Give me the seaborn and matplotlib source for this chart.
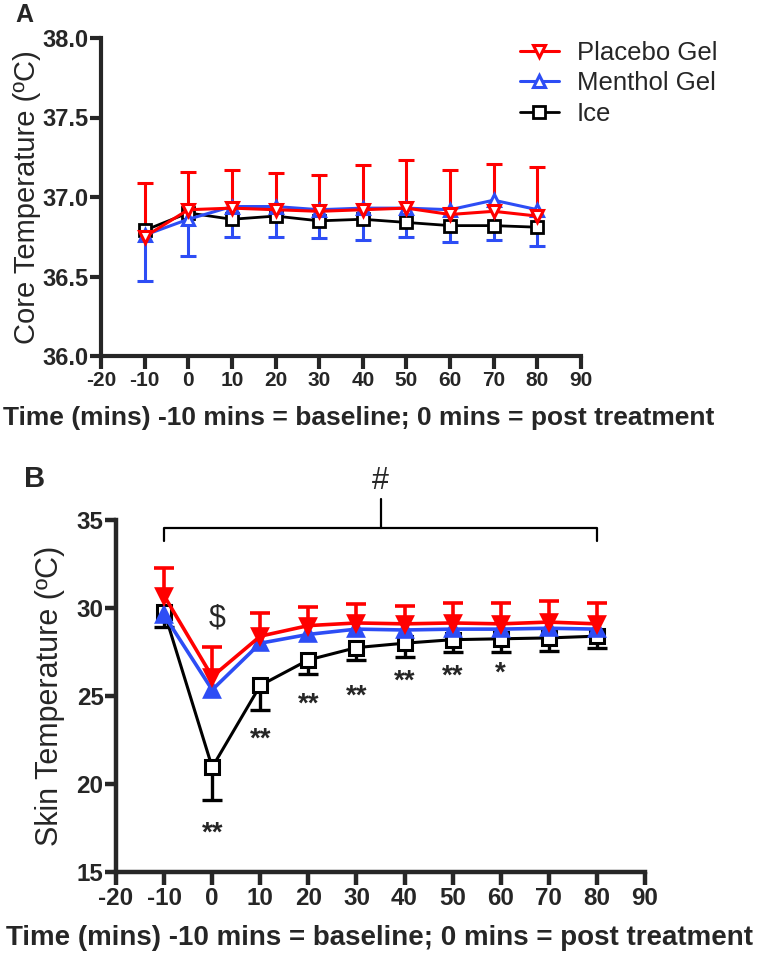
import numpy as np
import pandas as pd
import matplotlib
matplotlib.use("Agg")
import matplotlib.pyplot as plt
import seaborn as sns

# time points (mins)
times = [-10, 0, 10, 20, 30, 40, 50, 60, 70, 80]

# Panel A - core temperature
core_placebo = [36.75, 36.92, 36.93, 36.92, 36.91, 36.92, 36.93, 36.89, 36.91, 36.88]
core_placebo_sd = [0.34, 0.24, 0.24, 0.23, 0.23, 0.28, 0.30, 0.28, 0.30, 0.31]
core_menthol = [36.76, 36.86, 36.94, 36.94, 36.92, 36.93, 36.93, 36.92, 36.98, 36.92]
core_menthol_sd = [0.29, 0.23, 0.19, 0.19, 0.18, 0.20, 0.18, 0.20, 0.25, 0.23]
core_ice = [36.79, 36.90, 36.86, 36.88, 36.85, 36.86, 36.84, 36.82, 36.82, 36.81]

# Panel B - skin temperature
skin_placebo = [30.7, 26.1, 28.4, 29.0, 29.15, 29.1, 29.15, 29.1, 29.2, 29.1]
skin_placebo_sd = [1.6, 1.7, 1.3, 1.05, 1.05, 1.0, 1.15, 1.2, 1.2, 1.2]
skin_menthol = [29.6, 25.35, 28.0, 28.5, 28.8, 28.75, 28.8, 28.8, 28.85, 28.8]
skin_ice = [29.8, 20.95, 25.6, 27.05, 27.75, 28.0, 28.2, 28.25, 28.3, 28.4]
skin_ice_sd = [0.9, 1.85, 1.4, 0.8, 0.7, 0.8, 0.7, 0.75, 0.75, 0.7]

# significance marks under ice series
star_times = [0, 10, 20, 30, 40, 50, 60]
star_text = ['**', '**', '**', '**', '**', '**', '*']
star_y = [17.2, 22.5, 24.5, 24.95, 25.8, 26.1, 26.25]

RED = '#FF0000'
BLUE = '#2D4DF5'
BLACK = '#000000'
XLABEL = 'Time (mins) -10 mins = baseline; 0 mins = post treatment'

sns.set_style('ticks')
plt.rcParams['font.family'] = ['Liberation Sans', 'DejaVu Sans']
plt.rcParams['axes.unicode_minus'] = False


def style_axes(ax, yticks, ylim, fmt, xsize, ysize, lw):
    ax.set_xlim(-20, 90)
    ax.set_ylim(*ylim)
    ax.set_xticks(range(-20, 100, 10))
    ax.set_yticks(yticks)
    ax.set_yticklabels([fmt.format(v) for v in yticks])
    sns.despine(ax=ax)
    for s in ['left', 'bottom']:
        ax.spines[s].set_linewidth(lw)
    ax.tick_params(direction='out', length=9, width=lw, pad=2)
    ax.tick_params(axis='x', labelsize=xsize)
    ax.tick_params(axis='y', labelsize=ysize, length=8, pad=1)
    for lab in ax.get_xticklabels() + ax.get_yticklabels():
        lab.set_fontweight('bold')


def series(ax, y, color, marker, ms, mfc, lw, label=None, z=2):
    sns.lineplot(x=times, y=y, color=color, marker=marker, ms=ms, mfc=mfc,
                 mec=color, mew=lw, lw=lw, ax=ax, label=label, zorder=z)


def one_sided_err(ax, y, sd, sign, color, lw, cap):
    # error bar drawn only on one side of the mean, cap at the far end
    y = np.asarray(y)
    end = y + sign * np.asarray(sd)
    ax.vlines(times, y, end, color=color, lw=lw, zorder=1)
    ax.plot(times, end, ls='none', marker='_', ms=cap, mew=lw, color=color,
            zorder=1)


fig = plt.figure(figsize=(7.6, 9.56), dpi=100)

# ---- Panel A ----
axA = fig.add_axes([101 / 760, 1 - 356 / 956, 480 / 760, 318 / 956])
one_sided_err(axA, core_menthol, core_menthol_sd, -1, BLUE, 2.2, 11)
one_sided_err(axA, core_placebo, core_placebo_sd, 1, RED, 2.2, 11)
series(axA, core_ice, BLACK, 's', 8, 'white', 2.0, 'Ice', 2)
series(axA, core_menthol, BLUE, '^', 8.5, 'white', 2.2, 'Menthol Gel', 3)
series(axA, core_placebo, RED, 'v', 8.5, 'white', 2.2, 'Placebo Gel', 4)
style_axes(axA, [36.0, 36.5, 37.0, 37.5, 38.0], (36, 38), '{:.1f}', 15, 17, 3)
axA.set_xlabel('')
axA.set_ylabel('Core Temperature (ºC)', fontsize=21)
axA.yaxis.set_label_coords(-0.125, 0.5)

h, l = axA.get_legend_handles_labels()
order = [l.index('Placebo Gel'), l.index('Menthol Gel'), l.index('Ice')]
axA.legend([h[i] for i in order], [l[i] for i in order], frameon=False,
           loc='upper left', bbox_to_anchor=(520 / 760, 1 - 41 / 956),
           bbox_transform=fig.transFigure, fontsize=18.5, borderpad=0,
           borderaxespad=0, handlelength=1.5, handletextpad=0.7,
           labelspacing=0.25)

fig.text(359 / 760, 1 - 418 / 956, XLABEL, ha='center', va='center',
         fontsize=19, fontweight='bold')
fig.text(24 / 760, 1 - 15 / 956, 'A', ha='center', va='center',
         fontsize=18, fontweight='bold')

# ---- Panel B ----
axB = fig.add_axes([116 / 760, 1 - 872 / 956, 529 / 760, 352 / 956])
one_sided_err(axB, skin_ice, skin_ice_sd, -1, BLACK, 2.4, 14)
one_sided_err(axB, skin_placebo, skin_placebo_sd, 1, RED, 2.6, 14)
series(axB, skin_ice, BLACK, 's', 9.5, 'white', 2.2, None, 2)
series(axB, skin_menthol, BLUE, '^', 10, BLUE, 2.6, None, 3)
series(axB, skin_placebo, RED, 'v', 10, RED, 2.6, None, 4)
if axB.get_legend() is not None:
    axB.get_legend().remove()
style_axes(axB, [15, 20, 25, 30, 35], (15, 35), '{:d}', 17.4, 17.4, 3.2)
axB.set_xlabel('')
axB.set_ylabel('Skin Temperature (ºC)', fontsize=22)
axB.yaxis.set_label_coords(-0.097, 0.5)

for t, s, y in zip(star_times, star_text, star_y):
    axB.text(t, y, s, ha='center', va='center', fontsize=20, fontweight='bold')
axB.text(times[1] + 1, 29.4, '$', ha='center', va='center', fontsize=22)

# bracket over all time points
left, right = times[0], times[-1]
mid = (left + right) / 2
axB.plot([left, left, right, right], [33.8, 34.55, 34.55, 33.8], color=BLACK,
         lw=1.6, clip_on=False)
axB.plot([mid, mid], [34.55, 36.2], color=BLACK, lw=1.6, clip_on=False)
axB.text(mid, 37.2, '#', ha='center', va='center', fontsize=22, clip_on=False)

fig.text(380 / 760, 1 - 938 / 956, XLABEL, ha='center', va='center',
         fontsize=20, fontweight='bold')
fig.text(35 / 760, 1 - 479 / 956, 'B', ha='center', va='center',
         fontsize=21, fontweight='bold')

fig.savefig('out.png', dpi=100)
